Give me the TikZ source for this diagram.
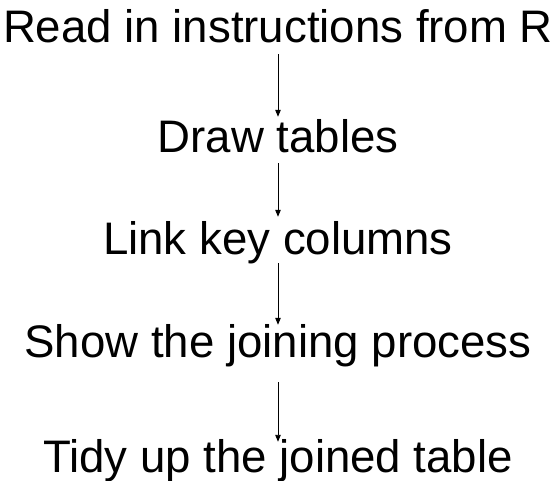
\documentclass[tikz,border=0pt]{standalone}
\usepackage{fontspec}
\setmainfont{Liberation Sans}
\usetikzlibrary{arrows.meta}
\tikzset{
  task/.style={anchor=base, inner sep=0pt, text height=32pt, text depth=11pt, font=\fontsize{45.6}{54}\selectfont},
  flow/.style={-{Triangle[length=7pt, width=5.5pt]}, line width=0.9pt}
}
\begin{document}
\begin{tikzpicture}[x=1pt, y=1pt]
  \useasboundingbox (0,0) rectangle (560,-481);
  \node[task] (read)  at (278,-43)  {Read in instructions from R};
  \node[task] (draw)  at (278,-153) {Draw tables};
  \node[task] (link)  at (278,-255) {Link key columns};
  \node[task] (show)  at (278,-357) {Show the joining process};
  \node[task] (tidy)  at (278,-472) {Tidy up the joined table};
  \draw[flow] (read.south) -- ([yshift=4pt]draw.north);
  \draw[flow] ([yshift=1pt]draw.south) -- ([yshift=6pt]link.north);
  \draw[flow] ([yshift=3pt]link.south) -- (show.north);
  \draw[flow] ([yshift=-14pt]show.south) -- ([yshift=-2pt]tidy.north);
\end{tikzpicture}
\end{document}
